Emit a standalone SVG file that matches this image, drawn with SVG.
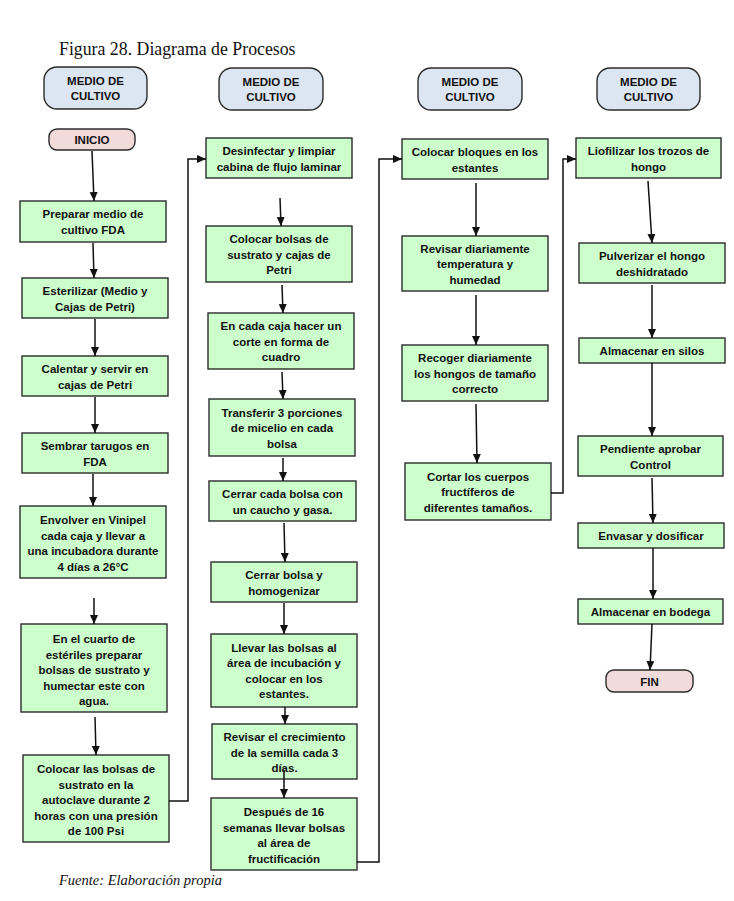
<svg xmlns="http://www.w3.org/2000/svg" width="734" height="901" viewBox="0 0 734 901">
<style>
.bx{fill:#ccffcc;stroke:#2b2b2b;stroke-width:1.4}
.hd{fill:#dce6f2;stroke:#2b2b2b;stroke-width:1.4}
.tm{fill:#f2dcdb;stroke:#2b2b2b;stroke-width:1.4}
.t{font-family:"Liberation Sans",Arial,sans-serif;font-weight:bold;font-size:11.5px;fill:#111;text-anchor:middle}
.c{fill:none;stroke:#111;stroke-width:1.5}
.cap{font-family:"Liberation Serif","Times New Roman",serif;fill:#111}
</style>
<defs>
<marker id="ah" markerUnits="userSpaceOnUse" markerWidth="10" markerHeight="10" refX="9" refY="4" orient="auto">
<path d="M0,0 L9,4 L0,8 z" fill="#111"/>
</marker>
</defs>
<rect width="734" height="901" fill="#fff"/>
<text class="cap" x="59" y="55" font-size="17.8">Figura 28. Diagrama de Procesos</text>
<text class="cap" x="59" y="885" font-size="14.5" font-style="italic">Fuente: Elaboración propia</text>

<g id="h1"><rect class="hd" x="44" y="67" width="103" height="42" rx="13"/><text class="t" x="95.5" y="85">MEDIO DE</text><text class="t" x="95.5" y="100">CULTIVO</text></g>
<g id="h2"><rect class="hd" x="219" y="68" width="104" height="42" rx="13"/><text class="t" x="271" y="86">MEDIO DE</text><text class="t" x="271" y="101">CULTIVO</text></g>
<g id="h3"><rect class="hd" x="418" y="68" width="104" height="42" rx="13"/><text class="t" x="470" y="86">MEDIO DE</text><text class="t" x="470" y="101">CULTIVO</text></g>
<g id="h4"><rect class="hd" x="597" y="68" width="103" height="42" rx="13"/><text class="t" x="648.5" y="86">MEDIO DE</text><text class="t" x="648.5" y="101">CULTIVO</text></g>

<g id="inicio"><rect class="tm" x="49" y="129" width="86" height="21" rx="8"/><text class="t" x="92" y="144">INICIO</text></g>
<g id="n1"><rect class="bx" x="20" y="201" width="146" height="41"/><text class="t" x="93" y="218">Preparar medio de</text><text class="t" x="93" y="234">cultivo FDA</text></g>
<g id="n2"><rect class="bx" x="22" y="278" width="146" height="40"/><text class="t" x="95" y="295">Esterilizar (Medio y</text><text class="t" x="95" y="311">Cajas de Petri)</text></g>
<g id="n3"><rect class="bx" x="22" y="356" width="146" height="40"/><text class="t" x="95" y="373">Calentar y servir en</text><text class="t" x="95" y="389">cajas de Petri</text></g>
<g id="n4"><rect class="bx" x="22" y="433" width="146" height="40"/><text class="t" x="95" y="450">Sembrar tarugos en</text><text class="t" x="95" y="466">FDA</text></g>
<g id="n5"><rect class="bx" x="20" y="506" width="146" height="72"/><text class="t" x="93" y="524">Envolver en Vinipel</text><text class="t" x="93" y="539.5">cada caja y llevar a</text><text class="t" x="93" y="555">una incubadora durante</text><text class="t" x="93" y="570.5">4 días a 26°C</text></g>
<g id="n6"><rect class="bx" x="21" y="624" width="146" height="88"/><text class="t" x="94" y="643">En el cuarto de</text><text class="t" x="94" y="658.5">estériles preparar</text><text class="t" x="94" y="674">bolsas de sustrato y</text><text class="t" x="94" y="689.5">humectar este con</text><text class="t" x="94" y="705">agua.</text></g>
<g id="n7"><rect class="bx" x="23" y="755" width="146" height="87"/><text class="t" x="96" y="773">Colocar las bolsas de</text><text class="t" x="96" y="788.5">sustrato en la</text><text class="t" x="96" y="804">autoclave durante 2</text><text class="t" x="96" y="819.5">horas con una presión</text><text class="t" x="96" y="835">de 100 Psi</text></g>

<g id="n8"><rect class="bx" x="206" y="138" width="146" height="40"/><text class="t" x="279" y="155">Desinfectar y limpiar</text><text class="t" x="279" y="171">cabina de flujo laminar</text></g>
<g id="n9"><rect class="bx" x="206" y="226" width="146" height="56"/><text class="t" x="279" y="243">Colocar bolsas de</text><text class="t" x="279" y="258.5">sustrato y cajas de</text><text class="t" x="279" y="274">Petri</text></g>
<g id="n10"><rect class="bx" x="208" y="313" width="146" height="56"/><text class="t" x="281" y="330">En cada caja hacer un</text><text class="t" x="281" y="345.5">corte en forma de</text><text class="t" x="281" y="361">cuadro</text></g>
<g id="n11"><rect class="bx" x="209" y="399" width="146" height="57"/><text class="t" x="282" y="416.5">Transferir 3 porciones</text><text class="t" x="282" y="432">de micelio en cada</text><text class="t" x="282" y="447.5">bolsa</text></g>
<g id="n12"><rect class="bx" x="209" y="481" width="147" height="40"/><text class="t" x="282.5" y="498">Cerrar cada bolsa con</text><text class="t" x="282.5" y="514">un caucho y gasa.</text></g>
<g id="n13"><rect class="bx" x="211" y="562" width="146" height="40"/><text class="t" x="284" y="579">Cerrar bolsa y</text><text class="t" x="284" y="595">homogenizar</text></g>
<g id="n14"><rect class="bx" x="211" y="634" width="146" height="73"/><text class="t" x="284" y="651.5">Llevar las bolsas al</text><text class="t" x="284" y="667">área de incubación y</text><text class="t" x="284" y="682.5">colocar en los</text><text class="t" x="284" y="698">estantes.</text></g>
<g id="n15"><rect class="bx" x="212" y="724" width="145" height="55"/><text class="t" x="284.5" y="741">Revisar el crecimiento</text><text class="t" x="284.5" y="756.5">de la semilla cada 3</text><text class="t" x="284.5" y="772">días.</text></g>
<g id="n16"><rect class="bx" x="211" y="798" width="146" height="72"/><text class="t" x="284" y="816">Después de 16</text><text class="t" x="284" y="831.5">semanas llevar bolsas</text><text class="t" x="284" y="847">al área de</text><text class="t" x="284" y="862.5">fructificación</text></g>

<g id="n17"><rect class="bx" x="402" y="139" width="146" height="40"/><text class="t" x="475" y="156">Colocar bloques en los</text><text class="t" x="475" y="172">estantes</text></g>
<g id="n18"><rect class="bx" x="402" y="236" width="146" height="55"/><text class="t" x="475" y="252.5">Revisar diariamente</text><text class="t" x="475" y="268">temperatura y</text><text class="t" x="475" y="283.5">humedad</text></g>
<g id="n19"><rect class="bx" x="402" y="345" width="146" height="56"/><text class="t" x="475" y="362">Recoger diariamente</text><text class="t" x="475" y="377.5">los hongos de tamaño</text><text class="t" x="475" y="393">correcto</text></g>
<g id="n20"><rect class="bx" x="405" y="463" width="146" height="57"/><text class="t" x="478" y="480.5">Cortar los cuerpos</text><text class="t" x="478" y="496">fructíferos de</text><text class="t" x="478" y="511.5">diferentes tamaños.</text></g>

<g id="n21"><rect class="bx" x="576" y="138" width="145" height="40"/><text class="t" x="648.5" y="155">Liofilizar los trozos de</text><text class="t" x="648.5" y="171">hongo</text></g>
<g id="n22"><rect class="bx" x="579" y="243" width="146" height="40"/><text class="t" x="652" y="260">Pulverizar el hongo</text><text class="t" x="652" y="276">deshidratado</text></g>
<g id="n23"><rect class="bx" x="579" y="338" width="146" height="25"/><text class="t" x="652" y="354.5">Almacenar en silos</text></g>
<g id="n24"><rect class="bx" x="578" y="436" width="145" height="40"/><text class="t" x="650.5" y="453">Pendiente aprobar</text><text class="t" x="650.5" y="469">Control</text></g>
<g id="n25"><rect class="bx" x="578" y="523" width="146" height="25"/><text class="t" x="651" y="539.5">Envasar y dosificar</text></g>
<g id="n26"><rect class="bx" x="578" y="599" width="145" height="25"/><text class="t" x="650.5" y="615.5">Almacenar en bodega</text></g>
<g id="fin"><rect class="tm" x="606" y="670" width="87" height="22" rx="8"/><text class="t" x="649.5" y="685.5">FIN</text></g>

<g id="connectors">
<path class="c" marker-end="url(#ah)" d="M92,151 L94,201"/>
<path class="c" marker-end="url(#ah)" d="M93,243 L94,278"/>
<path class="c" marker-end="url(#ah)" d="M95,319 L95,356"/>
<path class="c" marker-end="url(#ah)" d="M95,397 L95,433"/>
<path class="c" marker-end="url(#ah)" d="M93,474 L93,506"/>
<path class="c" marker-end="url(#ah)" d="M94,598 L94,624"/>
<path class="c" marker-end="url(#ah)" d="M95,717 L96,755"/>
<path class="c" marker-end="url(#ah)" d="M169,801 L188,801 L188,159 L206,159"/>
<path class="c" marker-end="url(#ah)" d="M280,198 L281,226"/>
<path class="c" marker-end="url(#ah)" d="M282,285 L283,313"/>
<path class="c" marker-end="url(#ah)" d="M282,372 L283,399"/>
<path class="c" marker-end="url(#ah)" d="M283,458 L283,481"/>
<path class="c" marker-end="url(#ah)" d="M284,523 L285,562"/>
<path class="c" marker-end="url(#ah)" d="M284,603 L284,634"/>
<path class="c" marker-end="url(#ah)" d="M285,707 L285,724"/>
<path class="c" marker-end="url(#ah)" d="M284,770 L284,798"/>
<path class="c" marker-end="url(#ah)" d="M357,862 L379,862 L379,159 L402,159"/>
<path class="c" marker-end="url(#ah)" d="M476,183 L476,236"/>
<path class="c" marker-end="url(#ah)" d="M476,295 L476,345"/>
<path class="c" marker-end="url(#ah)" d="M476,404 L477,463"/>
<path class="c" marker-end="url(#ah)" d="M551,493 L563,493 L563,159 L576,159"/>
<path class="c" marker-end="url(#ah)" d="M648,181 L652,243"/>
<path class="c" marker-end="url(#ah)" d="M652,285 L652,338"/>
<path class="c" marker-end="url(#ah)" d="M652,363 L652,436"/>
<path class="c" marker-end="url(#ah)" d="M652,478 L653,523"/>
<path class="c" marker-end="url(#ah)" d="M653,548 L653,599"/>
<path class="c" marker-end="url(#ah)" d="M652,624 L650,670"/>
</g>
</svg>
